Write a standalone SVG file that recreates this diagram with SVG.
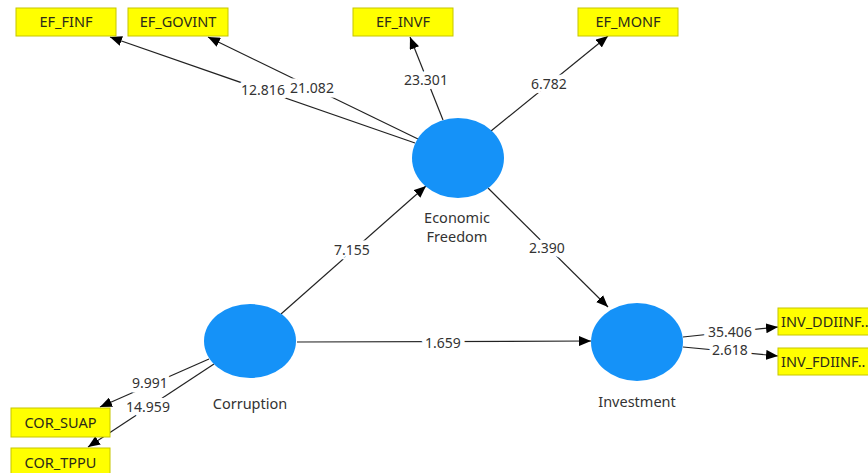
<svg xmlns="http://www.w3.org/2000/svg" width="868" height="473" viewBox="0 0 868 473">
<style>
.bg{fill:#ffffff}
.box{fill:#ffff00;stroke:#c6c600;stroke-width:1}
.bt{font-family:"Noto Sans","Open Sans",sans-serif;font-size:14.5px;fill:#2b2b1a}
.lv{fill:#1592f8}
.nl{font-family:"Noto Sans","Open Sans",sans-serif;font-size:14.5px;fill:#333;text-anchor:middle}
.ln{stroke:#222;stroke-width:1.2;fill:none;marker-end:url(#ah)}
.wl{font-family:"Noto Sans","Open Sans",sans-serif;font-size:14px;fill:#333;text-anchor:middle;stroke:#fff;stroke-width:9;paint-order:stroke;stroke-linejoin:round}
</style>
<defs>
<marker id="ah" viewBox="0 0 12 10" refX="12" refY="5" markerWidth="12" markerHeight="10" markerUnits="userSpaceOnUse" orient="auto">
<path d="M0,0 L12,5 L0,10 Z" fill="#000"/>
</marker>
</defs>
<rect class="bg" x="0" y="0" width="868" height="473"/>
<g id="connectors">
<line class="ln" x1="415" y1="143" x2="110" y2="37"/>
<line class="ln" x1="418" y1="139" x2="208" y2="37"/>
<line class="ln" x1="443" y1="120" x2="410" y2="37"/>
<line class="ln" x1="491" y1="131" x2="608" y2="36"/>
<line class="ln" x1="281" y1="314" x2="426" y2="186"/>
<line class="ln" x1="488" y1="188" x2="608" y2="307"/>
<line class="ln" x1="297" y1="342" x2="591" y2="341"/>
<line class="ln" x1="683" y1="337" x2="778" y2="327"/>
<line class="ln" x1="683" y1="347" x2="778" y2="356"/>
<line class="ln" x1="209" y1="359" x2="100" y2="407"/>
<line class="ln" x1="214" y1="364" x2="88" y2="447"/>
<text class="wl" x="263" y="95">12.816</text>
<text class="wl" x="312" y="93">21.082</text>
<text class="wl" x="426" y="85">23.301</text>
<text class="wl" x="549" y="89">6.782</text>
<text class="wl" x="352" y="255">7.155</text>
<text class="wl" x="547" y="253">2.390</text>
<text class="wl" x="443" y="348">1.659</text>
<text class="wl" x="730" y="337">35.406</text>
<text class="wl" x="730" y="355">2.618</text>
<text class="wl" x="150" y="388">9.991</text>
<text class="wl" x="148" y="412">14.959</text>
</g>
<g id="EF_FINF"><rect class="box" x="16" y="8" width="100" height="28"/><text class="bt" x="66" y="27" text-anchor="middle">EF_FINF</text></g>
<g id="EF_GOVINT"><rect class="box" x="128" y="8" width="100" height="28"/><text class="bt" x="178" y="27" text-anchor="middle">EF_GOVINT</text></g>
<g id="EF_INVF"><rect class="box" x="353" y="8" width="100" height="28"/><text class="bt" x="403" y="27" text-anchor="middle">EF_INVF</text></g>
<g id="EF_MONF"><rect class="box" x="578" y="8" width="100" height="28"/><text class="bt" x="628" y="27" text-anchor="middle">EF_MONF</text></g>
<g id="COR_SUAP"><rect class="box" x="11" y="408" width="99" height="29"/><text class="bt" x="60.5" y="428" text-anchor="middle">COR_SUAP</text></g>
<g id="COR_TPPU"><rect class="box" x="11" y="448" width="99" height="29"/><text class="bt" x="60.5" y="468" text-anchor="middle">COR_TPPU</text></g>
<g id="INV_DDIINF"><rect class="box" x="778" y="308" width="100" height="27"/><text class="bt" x="781" y="327">INV_DDIINF..</text></g>
<g id="INV_FDIINF"><rect class="box" x="778" y="348" width="100" height="27"/><text class="bt" x="781" y="367">INV_FDIINF..</text></g>
<g id="EconomicFreedom"><ellipse class="lv" cx="458" cy="158" rx="46" ry="40"/><text class="nl" x="457" y="223">Economic</text><text class="nl" x="457" y="242">Freedom</text></g>
<g id="Corruption"><ellipse class="lv" cx="250" cy="341" rx="46" ry="37"/><text class="nl" x="250" y="409">Corruption</text></g>
<g id="Investment"><ellipse class="lv" cx="637" cy="342" rx="46" ry="39"/><text class="nl" x="637" y="407">Investment</text></g>
</svg>
